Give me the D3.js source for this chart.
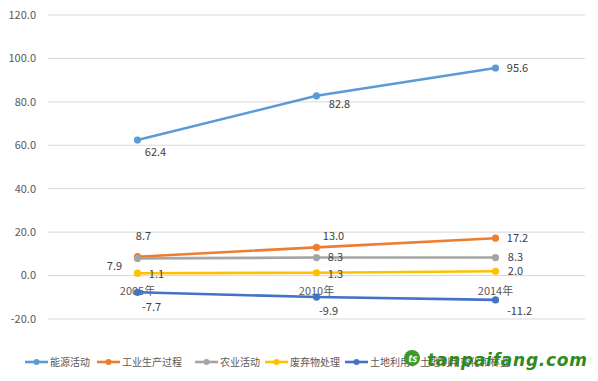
<!DOCTYPE html>
<html><head><meta charset="utf-8">
<script src="https://cdn.jsdelivr.net/npm/d3@7/dist/d3.min.js"></script>
<style>body{margin:0;background:#fff}svg{display:block;font-family:"Noto Sans CJK SC","Liberation Sans",sans-serif}</style>
</head><body><svg id="c" width="598" height="381"></svg>
<script>
(function(){
const categories = ["2005年", "2010年", "2014年"];
const seriesNames = ["能源活动", "工业生产过程", "农业活动", "废弃物处理", "土地利用、土地利用变化和林业"];
const energy = [62.4, 82.8, 95.6];
const industry = [8.7, 13.0, 17.2];
const agriculture = [7.9, 8.3, 8.3];
const waste = [1.1, 1.3, 2.0];
const lulucf = [-7.7, -9.9, -11.2];
const yTicks = [-20, 0, 20, 40, 60, 80, 100, 120];
const colors = ["#5B9BD5", "#ED7D31", "#A5A5A5", "#FFC000", "#4472C4"];
const labelOffsets = [
  [[18, 12], [23, 8], [22, 0]],
  [[6, -21], [17, -11], [22, 0]],
  [[-23, 8], [19, 0], [20, 0]],
  [[19, 1], [19, 1], [20, 0]],
  [[14, 15], [12, 14], [24, 11]]
];
const seriesValues = [energy, industry, agriculture, waste, lulucf];

const svg = d3.select("#c");
const pl = 48, pr = 585, pt = 15, pb = 319;
const x = d3.scalePoint().domain(categories).range([pl, pr]).padding(0.5);
const y = d3.scaleLinear().domain([-20, 120]).range([pb, pt]);

svg.append("g").selectAll("line").data(yTicks).join("line")
  .attr("x1", pl).attr("x2", pr)
  .attr("y1", d => y(d)).attr("y2", d => y(d))
  .attr("stroke", "#d9d9d9").attr("stroke-width", 1);

svg.append("g").selectAll("text").data(yTicks).join("text")
  .attr("x", 36).attr("y", d => y(d)).attr("dy", "0.35em")
  .attr("text-anchor", "end").attr("font-size", 11).attr("fill", "#595959")
  .text(d => d.toFixed(1));

svg.append("g").selectAll("text").data(categories).join("text")
  .attr("x", d => x(d)).attr("y", y(0) + 16)
  .attr("dy", "0.35em")
  .attr("text-anchor", "middle").attr("font-size", 11).attr("fill", "#595959")
  .text(d => d);

const line = d3.line().x((d, i) => x(categories[i])).y(d => y(d));

seriesValues.forEach((vals, s) => {
  const g = svg.append("g");
  g.append("path").datum(vals).attr("d", line)
    .attr("fill", "none").attr("stroke", colors[s]).attr("stroke-width", 2.6)
    .attr("stroke-linecap", "round");
  g.selectAll("circle").data(vals).join("circle")
    .attr("cx", (d, i) => x(categories[i])).attr("cy", d => y(d)).attr("r", 3.6)
    .attr("fill", colors[s]);
});
seriesValues.forEach((vals, s) => {
  svg.append("g").selectAll("text").data(vals).join("text")
    .attr("x", (d, i) => x(categories[i]) + labelOffsets[s][i][0])
    .attr("y", (d, i) => y(d) + labelOffsets[s][i][1])
    .attr("dy", "0.35em").attr("text-anchor", "middle")
    .attr("font-size", 11).attr("fill", "#404040")
    .text(d => d.toFixed(1));
});

const legendX = [25, 97, 195, 265, 345];
const ly = 362;
seriesNames.forEach((n, s) => {
  const g = svg.append("g");
  g.append("line").attr("x1", legendX[s]).attr("x2", legendX[s] + 23)
    .attr("y1", ly).attr("y2", ly).attr("stroke", colors[s]).attr("stroke-width", 2.6);
  g.append("circle").attr("cx", legendX[s] + 11.5).attr("cy", ly).attr("r", 3).attr("fill", colors[s]);
  g.append("text").attr("x", legendX[s] + 25).attr("y", ly).attr("dy", "0.35em")
    .attr("font-size", 10).attr("fill", "#595959").text(n);
});

const wm = svg.append("g");
wm.append("circle").attr("cx", 412).attr("cy", 358).attr("r", 8).attr("fill", "#3a9a2a");
wm.append("text").attr("x", 412).attr("y", 362).attr("text-anchor", "middle")
  .attr("font-size", 10).attr("font-style", "italic").attr("font-weight", "bold").attr("fill", "#fff").text("ts");
wm.append("text").attr("x", 427).attr("y", 366)
  .attr("font-family", "DejaVu Sans, sans-serif").attr("font-size", 17)
  .attr("font-weight", "bold").attr("font-style", "italic").attr("fill", "#2e8b1e")
  .attr("textLength", 160).text("tanpaifang.com");
})();
</script></body></html>
